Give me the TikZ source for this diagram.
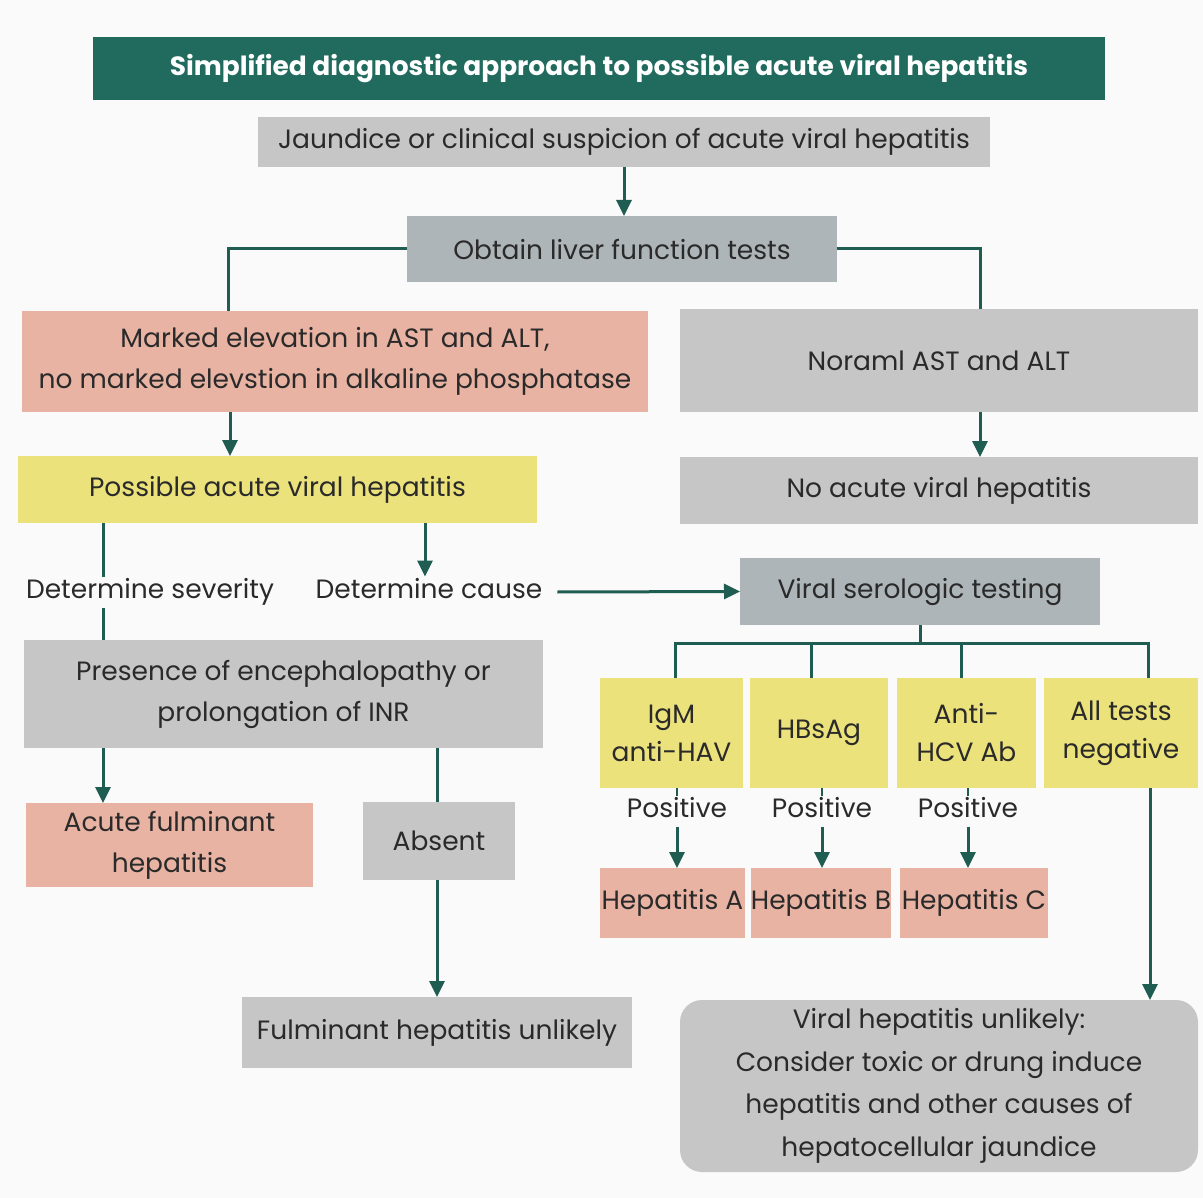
\documentclass[tikz,border=0pt]{standalone}
\usepackage{fontspec}
\setmainfont{Poppins}
\usetikzlibrary{arrows.meta,calc}
\definecolor{cBg}{HTML}{FAFAFA}
\definecolor{cTitle}{HTML}{216B5E}
\definecolor{cGray}{HTML}{C6C6C6}
\definecolor{cBlue}{HTML}{AEB5B8}
\definecolor{cSalmon}{HTML}{E9B3A3}
\definecolor{cYellow}{HTML}{ECE27C}
\definecolor{cLine}{HTML}{1F5C52}
\definecolor{cText}{HTML}{2A2A2A}
\begin{document}
\begin{tikzpicture}[x=1pt,y=-1pt,
  box/.style={inner sep=0pt, outer sep=0pt, align=center, text=cText, font=\fontsize{26.5}{41}\selectfont},
  lbl/.style={inner sep=3pt, outer sep=0pt, text=cText, text height=19pt, text depth=6pt, font=\fontsize{26.5}{41}\selectfont},
  conn/.style={draw=cLine, line width=3pt},
  arr/.style={conn, -{Triangle[width=15pt,length=16pt]}}]
\useasboundingbox (0,0) rectangle (1203,1198);
\fill[cBg] (0,0) rectangle (1203,1198);

\node[box, fill=cTitle, text=white, font=\fontsize{26.4}{30}\selectfont\bfseries, minimum width=1012pt, minimum height=63pt] (title) at (599,68.5) {Simplified diagnostic approach to possible acute viral hepatitis};
\node[box, fill=cGray, minimum width=732pt, minimum height=50pt] (jaund) at (624,142) {Jaundice or clinical suspicion of acute viral hepatitis};
\node[box, fill=cBlue, minimum width=430pt, minimum height=66pt] (lft) at (622,249) {Obtain liver function tests};
\node[box, fill=cSalmon, minimum width=626pt, minimum height=101pt] (marked) at (335,361.5) {Marked elevation in AST and ALT,\\no marked elevstion in alkaline phosphatase};
\node[box, fill=cGray, minimum width=518pt, minimum height=103pt] (normal) at (939,360.5) {Noraml AST and ALT};
\node[box, fill=cYellow, minimum width=519pt, minimum height=67pt] (possible) at (277.5,489.5) {Possible acute viral hepatitis};
\node[box, fill=cGray, minimum width=518pt, minimum height=67pt] (noacute) at (939,490.5) {No acute viral hepatitis};
\node[box, fill=cBlue, minimum width=360pt, minimum height=67pt] (serol) at (920,591.5) {Viral serologic testing};
\node[box, fill=cGray, minimum width=519pt, minimum height=108pt] (presence) at (283.5,694) {Presence of encephalopathy or\\prolongation of INR};
\node[box, fill=cYellow, minimum width=143pt, minimum height=110pt, font=\fontsize{26.5}{38}\selectfont] (igm) at (671.5,733) {IgM\\anti-HAV};
\node[box, fill=cYellow, minimum width=138pt, minimum height=110pt] (hbs) at (819,733) {HBsAg};
\node[box, fill=cYellow, minimum width=139pt, minimum height=110pt, font=\fontsize{26.5}{38}\selectfont] (hcv) at (966.5,733) {Anti-\\HCV Ab};
\node[box, fill=cYellow, minimum width=154pt, minimum height=110pt, font=\fontsize{26.5}{38}\selectfont] (allneg) at (1121,733) {All tests\\negative};
\node[box, fill=cSalmon, minimum width=287pt, minimum height=84pt] (acute) at (169.5,845) {Acute fulminant\\hepatitis};
\node[box, fill=cGray, minimum width=152pt, minimum height=78pt] (absent) at (439,841) {Absent};
\node[box, fill=cSalmon, minimum width=145pt, minimum height=70pt] (hepa) at (672.5,903) {Hepatitis A};
\node[box, fill=cSalmon, minimum width=138pt, minimum height=70pt] (hepb) at (821,903) {Hepatitis B};
\node[box, fill=cSalmon, minimum width=148pt, minimum height=70pt] (hepc) at (974,903) {Hepatitis C};
\node[box, fill=cGray, minimum width=390pt, minimum height=71pt] (fulun) at (437,1032.5) {Fulminant hepatitis unlikely};
\node[box, fill=cGray, rounded corners=22pt, minimum width=518pt, minimum height=172pt, font=\fontsize{26.5}{42.5}\selectfont] (viralun) at (939,1086) {Viral hepatitis unlikely:\\Consider toxic or drung induce\\hepatitis and other causes of\\hepatocellular jaundice};

\node[lbl] (sev) at (150,592) {Determine severity};
\node[lbl] (cause) at (429,592) {Determine cause};
\node[lbl] (pos1) at (677,811) {Positive};
\node[lbl] (pos2) at (822,811) {Positive};
\node[lbl] (pos3) at (968,811) {Positive};

% connectors
\draw[arr] (jaund.south) -- (jaund.south |- lft.north);
\draw[conn] (lft.west) -| ([xshift=-107pt]marked.north);
\draw[conn] (lft.east) -| ([xshift=41pt]normal.north);
\coordinate (m1) at ([xshift=-105pt]marked.south);
\draw[arr] (m1) -- (m1 |- possible.north);
\coordinate (n1) at ([xshift=41pt]normal.south);
\draw[arr] (n1) -- (n1 |- noacute.north);
\coordinate (p1) at ([xshift=-174.5pt]possible.south);
\draw[conn] (p1) -- (p1 |- sev.north);
\draw[conn] (p1 |- sev.south) -- (p1 |- presence.north);
\coordinate (p2) at ([xshift=147.5pt]possible.south);
\draw[arr] (p2) -- (p2 |- cause.north);
\draw[arr] ([xshift=12pt]cause.east) -- (serol.west);
\coordinate (q1) at ([xshift=-180.5pt]presence.south);
\draw[arr] (q1) -- (q1 |- acute.north);
\coordinate (q2) at ([xshift=153.5pt]presence.south);
\draw[conn] (q2) -- (q2 |- absent.north);
\draw[arr] ([xshift=-2pt]absent.south) -- ([xshift=-2pt]absent.south |- fulun.north);
% serologic bus
\coordinate (bus) at ([yshift=-18pt]serol.south);
\draw[conn] (serol.south) -- (bus);
\draw[conn] ([xshift=3.5pt]igm.north) -- ([xshift=3.5pt]igm.north |- bus) -| ([xshift=27pt]allneg.north);
\draw[conn] ([xshift=-8pt]hbs.north) -- ([xshift=-8pt]hbs.north |- bus);
\draw[conn] ([xshift=-5.5pt]hcv.north) -- ([xshift=-5.5pt]hcv.north |- bus);
% positives
\draw[cLine, line width=1.5pt] (igm.south -| pos1) -- (pos1.north);
\draw[cLine, line width=1.5pt] (hbs.south -| pos2) -- (pos2.north);
\draw[cLine, line width=1.5pt] (hcv.south -| pos3) -- (pos3.north);
\draw[arr] (pos1.south) -- (pos1.south |- hepa.north);
\draw[arr] (pos2.south) -- (pos2.south |- hepb.north);
\draw[arr] (pos3.south) -- (pos3.south |- hepc.north);
\coordinate (a1) at ([xshift=29pt]allneg.south);
\draw[arr] (a1) -- (a1 |- viralun.north);
\end{tikzpicture}
\end{document}
